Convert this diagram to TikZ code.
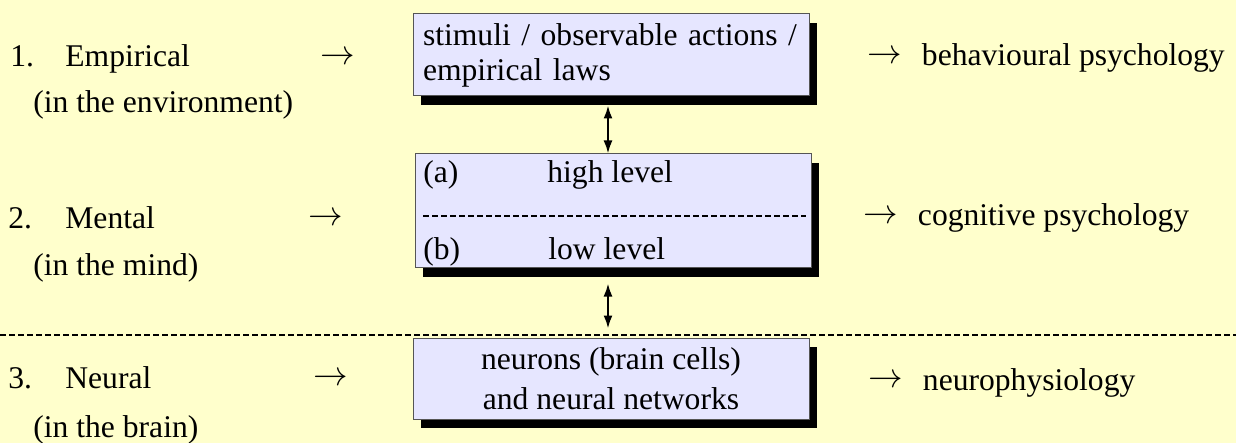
\documentclass[tikz,border=0pt]{standalone}
\usepackage{fontspec}
\setmainfont{Liberation Serif}
\usetikzlibrary{arrows.meta,shadows}
\definecolor{paper}{HTML}{FFFFCC}
\definecolor{boxfill}{HTML}{E6E6FF}
\definecolor{boxline}{HTML}{555555}
\newcommand{\goesto}{\raisebox{1.2pt}{\scalebox{1.2}{$\rightarrow$}}}

\begin{document}
\begin{tikzpicture}[x=0.5pt,y=-0.5pt,
  txt/.style={anchor=base west,inner sep=0pt,font=\fontsize{15.8}{17.5}\selectfont},
  levelbox/.style={draw=boxline,line width=0.5pt,fill=boxfill,minimum width=198pt,
    drop shadow={shadow xshift=4pt,shadow yshift=-4.5pt,opacity=1,fill=black}},
  sep/.style={line width=1pt,dash pattern=on 3pt off 1.5pt},
  link/.style={line width=1pt,{Latex[length=6.5pt,width=4.5pt]}-{Latex[length=6.5pt,width=4.5pt]}}]
  \fill[paper] (0,0) rectangle (1236,443);
  \useasboundingbox (0,0) rectangle (1236,443);

  % the three boxes
  \node[levelbox,text width=188pt,inner xsep=5pt,minimum height=41pt,align=left,
    font=\fontsize{15.8}{17.5}\selectfont] (stimuli) at (611,55)
    {stimuli / observable actions /\\empirical laws};
  \node[levelbox,minimum height=57pt] (mental) at (613,211) {};
  \node[levelbox,minimum height=40.5pt,align=center,
    font=\fontsize{15.8}{20}\selectfont] (neurons) at (611,378.5)
    {neurons (brain cells)\\and neural networks};

  \node[txt] (ha) at (423,183) {(a)};
  \node[txt] (hl) at (547,183) {high level};
  \node[txt] (lb) at (423,260) {(b)};
  \node[txt] (ll) at (548,260) {low level};
  \coordinate (midw) at (423,216);
  \coordinate (mide) at (806,216);
  \draw[sep] (midw) -- (mide);

  \draw[link] ([xshift=-1.5pt,yshift=-4.5pt]stimuli.south) -- ([xshift=-2.5pt]mental.north);
  \draw[link] ([xshift=-2.5pt,yshift=-7.5pt]mental.south) -- ([xshift=-1.5pt,yshift=4.5pt]neurons.north);

  \coordinate (sepw) at (0,335);
  \coordinate (sepe) at (1236,335);
  \draw[sep] (sepw) -- (sepe);

  % levels on the left
  \node[txt] (n1) at (10,67) {1.};
  \node[txt] (emp) at (65,67) {Empirical};
  \node[txt] (env) at (33,113) {(in the environment)};
  \node[txt] (a1) at (320,67) {\goesto};
  \node[txt] (n2) at (8,228) {2.};
  \node[txt] (men) at (65,228) {Mental};
  \node[txt] (mind) at (33,276) {(in the mind)};
  \node[txt] (a2) at (308,228) {\goesto};
  \node[txt] (n3) at (8,388) {3.};
  \node[txt] (neu) at (65,388) {Neural};
  \node[txt] (brain) at (33,437) {(in the brain)};
  \node[txt] (a3) at (313,388) {\goesto};

  % disciplines on the right
  \node[txt] (behav) at (867,66) {\goesto\hspace{10pt}behavioural psychology};
  \node[txt] (cogn) at (863,226) {\goesto\hspace{10pt}cognitive psychology};
  \node[txt] (phys) at (868,390) {\goesto\hspace{10pt}neurophysiology};
\end{tikzpicture}
\end{document}
